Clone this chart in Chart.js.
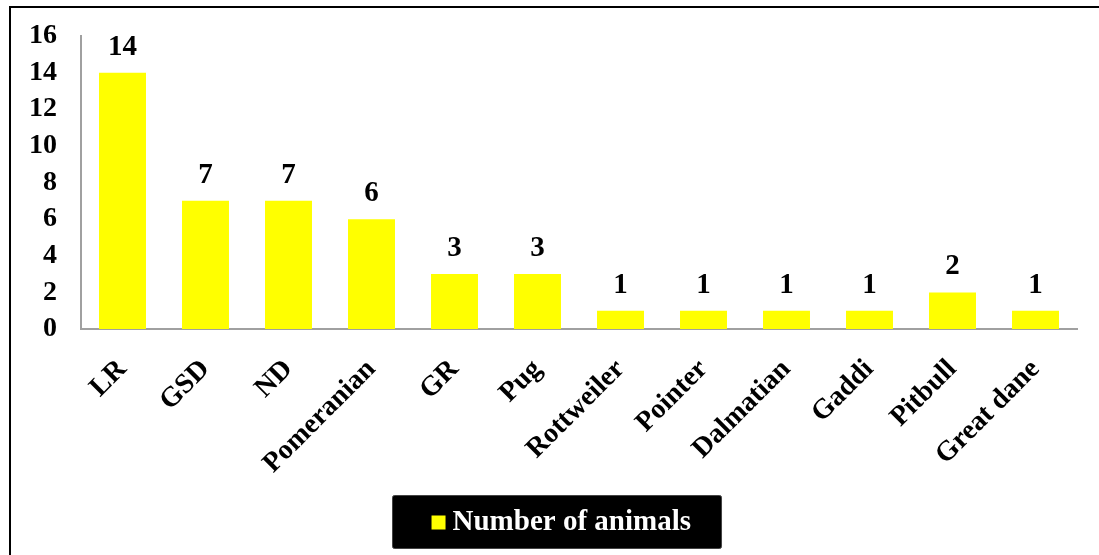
<!DOCTYPE html>
<html>
<head>
<meta charset="utf-8">
<script src="https://cdn.jsdelivr.net/npm/chart.js@4/dist/chart.umd.min.js"></script>
<style>
  body{margin:0;background:#fff;overflow:hidden;}
  #marco{position:absolute;left:9px;top:6px;width:1200px;height:700px;border-left:2px solid #000;border-top:2px solid #000;}
  #grafico{position:absolute;left:0;top:0;}
</style>
</head>
<body>
<div id="marco"></div>
<canvas id="grafico" width="1099" height="555"></canvas>
<script>
var razas=["LR","GSD","ND","Pomeranian","GR","Pug","Rottweiler","Pointer","Dalmatian","Gaddi","Pitbull","Great dane"];
var animales=[14,7,7,6,3,3,1,1,1,1,2,1];
var ticksY=[0,2,4,6,8,10,12,14,16];
var colorBarra="#FFFF00";
var fuente="'Liberation Serif','Times New Roman',serif";

// numeros encima de cada barra
var etiquetas={
	id:"etiquetas",
	afterDatasetsDraw:function(chart){
		var ctx=chart.ctx;
		var meta=chart.getDatasetMeta(0);
		ctx.save();
		ctx.font="bold 29px "+fuente;
		ctx.fillStyle="#000";
		ctx.textAlign="center";
		ctx.textBaseline="alphabetic";
		meta.data.forEach(function(barra,i){
			ctx.fillText(chart.data.datasets[0].data[i],barra.x,barra.y-18);
		});
		ctx.restore();
	}
};

// caja negra de la leyenda y su cuadrito amarillo
var fondoLeyenda={
	id:"fondoLeyenda",
	beforeDraw:function(chart){
		var cajas=chart.legend.legendHitBoxes;
		if(!cajas || !cajas.length) return;
		var c=cajas[0];
		var xTexto=c.left+52+14.5;
		var cy=c.top+c.height/2;
		var ctx=chart.ctx;
		ctx.save();
		ctx.fillStyle="#000";
		ctx.strokeStyle="#444";
		ctx.lineWidth=1;
		ctx.beginPath();
		ctx.roundRect(xTexto-60,cy-27,329,53,2);
		ctx.fill();
		ctx.stroke();
		ctx.fillStyle=colorBarra;
		ctx.fillRect(xTexto-21,cy-7,14,14);
		ctx.restore();
	}
};

var datos={
	type:"bar",
	data:{
		labels:razas,
		datasets:[{
			label:"Number of animals",
			data:animales,
			backgroundColor:colorBarra,
			borderWidth:0,
			categoryPercentage:1,
			barPercentage:0.566
		}]
	},
	options:{
		responsive:false,
		animation:false,
		layout:{padding:{left:0,top:36,right:22,bottom:8}},
		plugins:{
			tooltip:{enabled:false},
			legend:{
				position:"bottom",
				labels:{
					color:"#fff",
					boxWidth:52,
					boxHeight:0,
					padding:10,
					font:{family:fuente,size:29,weight:"bold"},
					generateLabels:function(chart){
						var items=Chart.defaults.plugins.legend.labels.generateLabels(chart);
						items.forEach(function(it){
							it.fillStyle="rgba(0,0,0,0)";
							it.strokeStyle="rgba(0,0,0,0)";
							it.lineWidth=0;
						});
						return items;
					}
				}
			}
		},
		scales:{
			x:{
				grid:{display:false},
				border:{color:"#a0a0a0",width:2},
				ticks:{
					color:"#000",
					maxRotation:45,
					minRotation:45,
					padding:16,
					font:{family:fuente,size:28,weight:"bold"}
				},
				afterFit:function(scale){scale.height=169;}
			},
			y:{
				min:0,
				max:16,
				grid:{display:false},
				border:{color:"#a0a0a0",width:2},
				afterBuildTicks:function(scale){
					scale.ticks=ticksY.map(function(v){return {value:v};});
				},
				ticks:{
					color:"#000",
					padding:16,
					font:{family:fuente,size:28,weight:"bold"}
				},
				afterFit:function(scale){scale.width=81;}
			}
		}
	},
	plugins:[fondoLeyenda,etiquetas]
};

var canvas=document.getElementById("grafico").getContext("2d");
window.barras=new Chart(canvas,datos);
</script>
</body>
</html>
